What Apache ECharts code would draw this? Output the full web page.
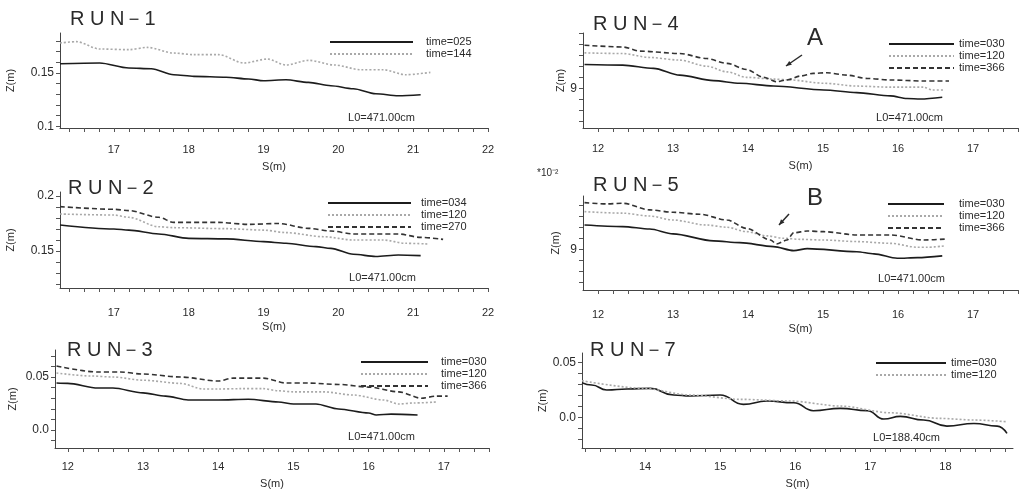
<!DOCTYPE html>
<html>
<head>
<meta charset="utf-8">
<script src="https://cdn.jsdelivr.net/npm/echarts@6/dist/echarts.min.js"></script>
<style>
  html, body { margin: 0; padding: 0; background: #fff; }
  #chart { width: 1021px; height: 494px; }
</style>
</head>
<body>
<div id="chart"></div>
<script>
// bed profiles, [S (m), Z]
const run1_t025 = [[16.28,0.1587],[16.81,0.1594],[17.2,0.1547],[17.5,0.154],[17.8,0.1484],[18.07,0.1469],[18.5,0.146],[18.8,0.1444],[19.0,0.1428],[19.3,0.1437],[19.6,0.1412],[19.9,0.1381],[20.2,0.1353],[20.5,0.1306],[20.8,0.1287],[21.1,0.1297]];
const run1_t144 = [[16.28,0.1781],[16.5,0.1794],[16.81,0.1725],[17.2,0.1719],[17.45,0.174],[17.8,0.1687],[18.07,0.1672],[18.4,0.1672],[18.74,0.1594],[19.05,0.1631],[19.3,0.1575],[19.6,0.1619],[19.95,0.1575],[20.3,0.1531],[20.6,0.1531],[20.9,0.1484],[21.23,0.1506]];

const run2_t034 = [[16.28,0.1736],[17.0,0.170],[17.2,0.169],[17.6,0.1655],[18.0,0.1615],[18.5,0.161],[19.0,0.1585],[19.3,0.157],[19.7,0.154],[19.9,0.1524],[20.2,0.147],[20.5,0.145],[20.8,0.1464],[21.1,0.1458]];
const run2_t120 = [[16.28,0.1836],[17.0,0.1827],[17.2,0.1806],[17.6,0.172],[17.8,0.1712],[18.5,0.1703],[19.0,0.169],[19.3,0.1667],[19.8,0.163],[20.2,0.160],[20.6,0.160],[20.9,0.157],[21.2,0.1564]];
const run2_t270 = [[16.28,0.1903],[17.0,0.1879],[17.2,0.1867],[17.6,0.1806],[17.8,0.176],[18.4,0.176],[18.8,0.1742],[19.2,0.175],[19.6,0.1706],[19.9,0.1682],[20.2,0.1655],[20.8,0.1655],[21.1,0.1624],[21.4,0.1606]];

const run3_t030 = [[11.85,0.0443],[12.0,0.044],[12.4,0.0396],[12.6,0.0396],[13.0,0.035],[13.3,0.032],[13.6,0.0283],[14.0,0.0283],[14.4,0.029],[14.8,0.0264],[15.0,0.0245],[15.3,0.0245],[15.6,0.0198],[16.0,0.016],[16.1,0.0142],[16.3,0.015],[16.65,0.0142]];
const run3_t120 = [[11.85,0.0538],[12.3,0.051],[12.6,0.05],[13.0,0.047],[13.5,0.044],[13.8,0.0387],[14.0,0.0387],[14.3,0.039],[14.6,0.039],[14.8,0.037],[15.0,0.036],[15.4,0.036],[15.8,0.033],[16.2,0.0283],[16.4,0.0245],[16.6,0.0255],[16.9,0.0264]];
const run3_t366 = [[11.85,0.0604],[12.4,0.0547],[12.7,0.0547],[13.0,0.0528],[13.5,0.05],[14.0,0.0462],[14.2,0.049],[14.6,0.049],[14.9,0.0443],[15.2,0.0443],[15.6,0.043],[16.0,0.0405],[16.4,0.036],[16.7,0.030],[16.9,0.032],[17.05,0.032]];

// RUN-4 and RUN-5 in the scaled units of the plot (*10^-2)
const run4_t030 = [[11.82,10.09],[12.33,10.06],[12.74,9.91],[13.09,9.60],[13.54,9.35],[13.89,9.23],[14.34,9.10],[15.01,8.92],[15.45,8.80],[15.9,8.65],[16.12,8.53],[16.3,8.51],[16.59,8.59]];
const run4_t120 = [[11.82,10.62],[12.33,10.59],[12.69,10.41],[13.09,10.29],[13.45,10.01],[13.72,9.75],[13.98,9.50],[14.34,9.42],[14.56,9.38],[15.01,9.23],[15.45,9.10],[15.9,9.05],[16.34,9.05],[16.46,8.92],[16.61,8.92]];
const run4_t366 = [[11.82,10.97],[12.33,10.89],[12.56,10.70],[13.09,10.59],[13.45,10.36],[13.72,10.14],[13.98,9.86],[14.21,9.50],[14.38,9.30],[14.52,9.38],[14.7,9.56],[14.87,9.68],[15.05,9.71],[15.32,9.60],[15.59,9.45],[15.9,9.38],[16.34,9.33],[16.68,9.33]];

const run5_t030 = [[11.82,10.10],[12.33,10.03],[12.69,9.92],[13.0,9.70],[13.54,9.38],[13.89,9.30],[14.34,9.12],[14.61,8.94],[14.79,9.03],[15.45,8.89],[15.68,8.79],[15.99,8.59],[16.26,8.62],[16.59,8.70]];
const run5_t120 = [[11.82,10.71],[12.33,10.64],[12.69,10.51],[13.0,10.33],[13.45,10.10],[13.72,10.0],[13.98,9.80],[14.25,9.61],[14.47,9.5],[14.7,9.45],[15.01,9.42],[15.45,9.35],[15.9,9.27],[16.26,9.09],[16.39,9.09],[16.61,9.15]];
const run5_t366 = [[11.82,11.12],[12.11,11.06],[12.33,11.09],[12.69,10.79],[13.0,10.68],[13.36,10.59],[13.72,10.33],[13.98,9.95],[14.3,9.42],[14.38,9.24],[14.52,9.42],[14.61,9.75],[14.79,9.83],[15.01,9.80],[15.45,9.65],[15.9,9.65],[16.34,9.42],[16.66,9.47]];

const run7_t030 = [[13.16,0.0318],[13.29,0.0297],[13.49,0.0252],[13.76,0.0261],[14.07,0.0267],[14.38,0.0206],[14.6,0.0197],[15.0,0.0206],[15.31,0.0121],[15.62,0.0152],[15.98,0.0136],[16.24,0.0064],[16.6,0.0085],[16.96,0.0064],[17.18,-0.0012],[17.4,0.0012],[17.71,-0.0021],[18.02,-0.0076],[18.38,-0.0052],[18.69,-0.0076],[18.82,-0.0142]];
const run7_t120 = [[13.16,0.0336],[13.98,0.0267],[14.6,0.0206],[15.27,0.0167],[15.93,0.0152],[16.6,0.0106],[17.27,0.0045],[17.93,-0.0006],[18.38,-0.0021],[18.82,-0.0036]];

// tick labels
const xLabels12 = [17, 18, 19, 20, 21, 22];
const xLabels345 = [12, 13, 14, 15, 16, 17];
const xLabels7 = [14, 15, 16, 17, 18];
const yLabels1 = [0.1, 0.15];
const yLabels2 = [0.15, 0.2];
const yLabels3 = [0, 0.05];
const yLabels45 = [9];
const yLabels7 = [0, 0.05];

function steps(a, b, d) {
  const out = [];
  for (let v = a; v <= b + 1e-9; v += d) out.push(+v.toFixed(4));
  return out;
}

const ink = '#2a2a2a';
const font = 'Liberation Sans, Arial, sans-serif';

const solid = { color: '#1c1c1c', width: 1.6, type: 'solid' };
const dotted = { color: '#a9a9a9', width: 1.6, type: [2, 2] };
const dashed = { color: '#333333', width: 1.6, type: [5, 3] };

const grids = [
  { left: 60, top: 33, width: 428, height: 95 },
  { left: 60, top: 192, width: 428, height: 96 },
  { left: 55, top: 350, width: 434, height: 98 },
  { left: 583, top: 33, width: 435, height: 95 },
  { left: 583, top: 196, width: 435, height: 94 },
  { left: 582, top: 353, width: 431, height: 95 }
];

function xAxis(i, min, max, labels, ticks, margin, nameGap) {
  return {
    type: 'value', gridIndex: i, min, max,
    name: 'S(m)', nameLocation: 'middle', nameGap,
    nameTextStyle: { fontSize: 11, color: ink, fontFamily: font },
    axisLine: { show: true, onZero: false, lineStyle: { color: '#444', width: 1 } },
    axisTick: { show: true, length: 4, customValues: ticks, lineStyle: { color: '#555' } },
    axisLabel: { customValues: labels, margin, fontSize: 11, color: ink, fontFamily: font },
    splitLine: { show: false }
  };
}

function yAxis(i, min, max, labels, ticks, nameGap, fmt) {
  return {
    type: 'value', gridIndex: i, min, max,
    name: 'Z(m)', nameLocation: 'middle', nameGap,
    nameTextStyle: { fontSize: 11, color: ink, fontFamily: font },
    axisLine: { show: true, onZero: false, lineStyle: { color: '#444', width: 1 } },
    axisTick: { show: true, length: 4, customValues: ticks, lineStyle: { color: '#555' } },
    axisLabel: { customValues: labels, margin: 6, fontSize: 12, color: ink, fontFamily: font, formatter: fmt },
    splitLine: { show: false }
  };
}

const fmtDec = v => (v === 0 ? '0.0' : String(+v.toFixed(3)));

function line(name, data, style, i, smooth) {
  return {
    type: 'line', name, data, xAxisIndex: i, yAxisIndex: i,
    symbol: 'none', smooth: smooth || 0.3, smoothMonotone: 'x',
    color: style.color, lineStyle: style, silent: true
  };
}

function legend(names, left, top, itemWidth, pad) {
  return {
    orient: 'vertical', left, top, itemWidth, itemHeight: 9, itemGap: 0, padding: 0,
    selectedMode: false, data: names,
    itemStyle: { opacity: 0 },
    textStyle: { fontSize: 11, lineHeight: 9, color: ink, fontFamily: font, padding: [3, 0, 0, pad] }
  };
}

function text(x, y, str, size, align) {
  return {
    type: 'text', x, y, silent: true,
    style: { text: str, fill: ink, font: size + 'px ' + font, textAlign: align || 'left', textVerticalAlign: 'middle' }
  };
}

function arrow(x1, y1, x2, y2) {
  const a = Math.atan2(y2 - y1, x2 - x1), h = 6;
  return [
    { type: 'line', silent: true, shape: { x1, y1, x2, y2 }, style: { stroke: ink, lineWidth: 1.5 } },
    { type: 'polygon', silent: true, shape: { points: [
      [x2, y2],
      [x2 - h * Math.cos(a - 0.4), y2 - h * Math.sin(a - 0.4)],
      [x2 - h * Math.cos(a + 0.4), y2 - h * Math.sin(a + 0.4)]
    ] }, style: { fill: ink } }
  ];
}

const chart = echarts.init(document.getElementById('chart'), null, { renderer: 'canvas' });

chart.setOption({
  animation: false,
  backgroundColor: '#fff',
  grid: grids.map(g => Object.assign({ containLabel: false, outerBoundsMode: 'none' }, g)),
  xAxis: [
    xAxis(0, 16.28, 22, xLabels12, steps(16.4, 22, 0.2), 16, 33),
    xAxis(1, 16.28, 22, xLabels12, steps(16.4, 22, 0.2), 19, 33),
    xAxis(2, 11.83, 17.6, xLabels345, steps(12, 17.6, 0.2), 13, 30),
    xAxis(3, 11.8, 17.6, xLabels345, steps(12, 17.6, 0.2), 15, 32),
    xAxis(4, 11.8, 17.6, xLabels345, steps(12, 17.6, 0.2), 19, 33),
    xAxis(5, 13.16, 18.9, xLabels7, steps(13.2, 18.8, 0.2), 13, 30)
  ],
  yAxis: [
    yAxis(0, 0.0985, 0.1875, yLabels1, steps(0.1, 0.18, 0.01), 44, fmtDec),
    yAxis(1, 0.1164, 0.2036, yLabels2, steps(0.12, 0.2, 0.01), 44, fmtDec),
    yAxis(2, -0.017, 0.0755, yLabels3, steps(-0.01, 0.07, 0.01), 37, fmtDec),
    yAxis(3, 7.18, 11.53, yLabels45, steps(7.5, 11.5, 0.5), 15, v => String(v)),
    yAxis(4, 7.15, 11.42, yLabels45, steps(7.5, 11, 0.5), 22, v => String(v)),
    yAxis(5, -0.0275, 0.0588, yLabels7, steps(-0.02, 0.05, 0.01), 31, fmtDec)
  ],
  legend: [
    legend(['time=025', 'time=144'], 329, 36, 83, 8),
    legend(['time=034', 'time=120', 'time=270'], 327, 197, 83, 5),
    legend(['time=030', 'time=120', 'time=366'], 360, 356, 67, 8),
    legend(['time=030', 'time=120', 'time=366'], 888, 38, 65, 0),
    legend(['time=030', 'time=120', 'time=366'], 887, 198, 56, 10),
    legend(['time=030', 'time=120'], 875, 357, 70, 0)
  ],
  series: [
    line('time=025', run1_t025, solid, 0),
    line('time=144', run1_t144, dotted, 0),
    line('time=034', run2_t034, solid, 1),
    line('time=120', run2_t120, dotted, 1),
    line('time=270', run2_t270, dashed, 1),
    line('time=030', run3_t030, solid, 2),
    line('time=120', run3_t120, dotted, 2),
    line('time=366', run3_t366, dashed, 2),
    line('time=030', run4_t030, solid, 3),
    line('time=120', run4_t120, dotted, 3),
    line('time=366', run4_t366, dashed, 3),
    line('time=030', run5_t030, solid, 4),
    line('time=120', run5_t120, dotted, 4),
    line('time=366', run5_t366, dashed, 4),
    line('time=030', run7_t030, solid, 5, 0.5),
    line('time=120', run7_t120, dotted, 5)
  ],
  graphic: [
    text(70, 19, 'R U N－1', 20),
    text(68, 188, 'R U N－2', 20),
    text(67, 350, 'R U N－3', 20),
    text(593, 24, 'R U N－4', 20),
    text(593, 185, 'R U N－5', 20),
    text(590, 350, 'R U N－7', 20),
    text(415, 118, 'L0=471.00cm', 11, 'right'),
    text(416, 278, 'L0=471.00cm', 11, 'right'),
    text(415, 437, 'L0=471.00cm', 11, 'right'),
    text(943, 118, 'L0=471.00cm', 11, 'right'),
    text(945, 279, 'L0=471.00cm', 11, 'right'),
    text(940, 438, 'L0=188.40cm', 11, 'right'),
    text(537, 173, '*10⁻²', 10),
    text(815, 38, 'A', 24, 'center'),
    text(815, 198, 'B', 24, 'center')
  ].concat(arrow(802, 55, 786, 66), arrow(789, 214, 779, 225))
});
</script>
</body>
</html>
